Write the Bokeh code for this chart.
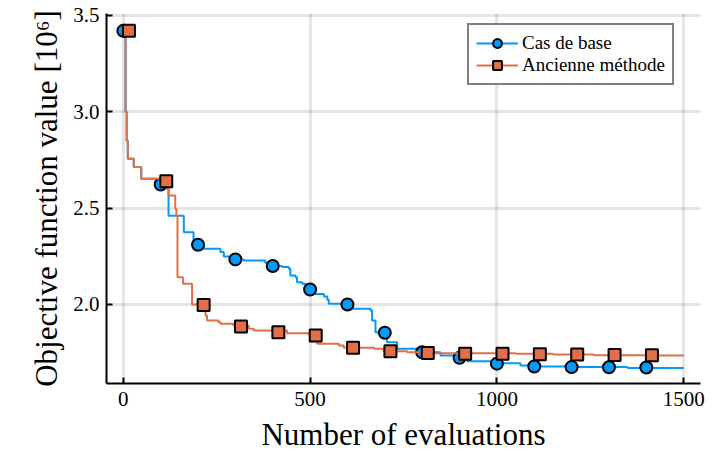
from bokeh.plotting import figure
from bokeh.models import (Range1d, FixedTicker, PrintfTickFormatter, Legend, LegendItem)
from bokeh.embed import file_html
from bokeh.resources import INLINE

# Best-so-far staircase breakpoints (evaluation, objective [1e6])
base_x = [0, 6, 9, 12, 28, 48, 90, 121, 162, 188, 215, 260, 269, 291, 300, 322, 380, 395,
          425, 443, 447, 461, 465, 479, 488, 497, 510, 537, 546, 550, 613, 662, 666, 675,
          706, 733, 795, 849, 885, 921, 1001, 1063, 1099, 1200, 1350, 1500]
base_y = [3.42, 3.00, 2.85, 2.756, 2.713, 2.652, 2.623, 2.46, 2.375, 2.31, 2.289, 2.272, 2.249,
          2.242, 2.234, 2.228, 2.216, 2.20, 2.194, 2.185, 2.15, 2.142, 2.116, 2.107, 2.09,
          2.078, 2.055, 2.042, 2.024, 2.004, 1.978, 1.969, 1.917, 1.856, 1.804, 1.770, 1.752,
          1.735, 1.718, 1.706, 1.695, 1.683, 1.678, 1.675, 1.671, 1.671]

old_x = [0, 6, 9, 12, 28, 48, 116, 121, 139, 142, 145, 160, 184, 220, 224, 255, 260, 295,
         336, 349, 438, 496, 519, 577, 590, 671, 697, 760, 810, 1050, 1150, 1260, 1400, 1500]
old_y = [3.42, 3.00, 2.85, 2.756, 2.713, 2.652, 2.60, 2.566, 2.497, 2.462, 2.142, 2.107, 2.0,
         1.943, 1.917, 1.908, 1.900, 1.891, 1.874, 1.865, 1.851, 1.844, 1.796, 1.787, 1.775,
         1.770, 1.758, 1.752, 1.747, 1.744, 1.741, 1.737, 1.735, 1.735]

# Markers every 100 evaluations
base_mx = [0, 100, 200, 300, 400, 500, 600, 700, 800, 900, 1000, 1100, 1200, 1300, 1400]
base_my = [3.42, 2.623, 2.31, 2.234, 2.20, 2.078, 2.0, 1.853, 1.752, 1.723, 1.693, 1.678,
           1.675, 1.674, 1.673]
old_mx = [15, 115, 215, 315, 415, 515, 615, 715, 815, 915, 1015, 1115, 1215, 1315, 1415]
old_my = [3.42, 2.64, 1.997, 1.886, 1.856, 1.839, 1.775, 1.758, 1.748, 1.745, 1.744, 1.742,
          1.741, 1.738, 1.737]

x_ticks = [0, 500, 1000, 1500]
y_ticks = [2.0, 2.5, 3.0, 3.5]

labels = ["Cas de base", "Ancienne méthode"]
colors = ["#009AFA", "#E36F47"]
FONT = "Liberation Serif"

p = figure(width=723, height=455, output_backend="svg", toolbar_location=None,
           x_range=Range1d(-45, 1545), y_range=Range1d(1.59, 3.51),
           min_border_left=106, min_border_right=23, min_border_top=13, min_border_bottom=72)
p.outline_line_color = None
p.background_fill_color = "white"
p.border_fill_color = "white"

r1 = p.step(base_x, base_y, mode="after", line_color=colors[0], line_width=2)
s1 = p.scatter(base_mx, base_my, marker="circle", size=12, fill_color=colors[0],
               line_color="black", line_width=2)
r2 = p.step(old_x, old_y, mode="after", line_color=colors[1], line_width=2)
s2 = p.scatter(old_mx, old_my, marker="square", size=12, fill_color=colors[1],
               line_color="black", line_width=2)

for ax in (p.xaxis[0], p.yaxis[0]):
    ax.axis_line_width = 2
    ax.axis_line_color = "black"
    ax.major_tick_in = 6
    ax.major_tick_out = 0
    ax.major_tick_line_width = 2
    ax.minor_tick_in = 0
    ax.minor_tick_out = 0
    ax.major_label_text_font = FONT
    ax.major_label_text_font_size = "21px"
    ax.major_label_text_color = "black"
    ax.axis_label_text_font = FONT
    ax.axis_label_text_font_size = "31px"
    ax.axis_label_text_font_style = "normal"
    ax.axis_label_text_color = "black"

p.xaxis.ticker = FixedTicker(ticks=x_ticks)
p.yaxis.ticker = FixedTicker(ticks=y_ticks)
p.yaxis.formatter = PrintfTickFormatter(format="%.1f")
p.xaxis.axis_label = "Number of evaluations"
p.yaxis.axis_label = "Objective function value [10⁶]"
p.xaxis.major_label_standoff = 8
p.yaxis.major_label_standoff = 7
p.xaxis.axis_label_standoff = 8
p.yaxis.axis_label_standoff = 6

p.xgrid.ticker = FixedTicker(ticks=x_ticks)
p.ygrid.ticker = FixedTicker(ticks=y_ticks)
for g in (p.xgrid[0], p.ygrid[0]):
    g.grid_line_color = "black"
    g.grid_line_alpha = 0.1
    g.grid_line_width = 3

legend = Legend(items=[LegendItem(label=labels[0], renderers=[r1, s1]),
                       LegendItem(label=labels[1], renderers=[r2, s2])],
                location=(361, 298))
legend.label_text_font = FONT
legend.label_text_font_size = "19px"
legend.label_text_color = "black"
legend.glyph_width = 42
legend.glyph_height = 22
legend.label_height = 19
legend.label_standoff = 4
legend.spacing = 0
legend.padding = 7
legend.margin = 0
legend.border_line_color = "black"
legend.border_line_width = 2
legend.background_fill_alpha = 1
p.add_layout(legend, "center")

open("out.html", "w").write(file_html(p, INLINE))
